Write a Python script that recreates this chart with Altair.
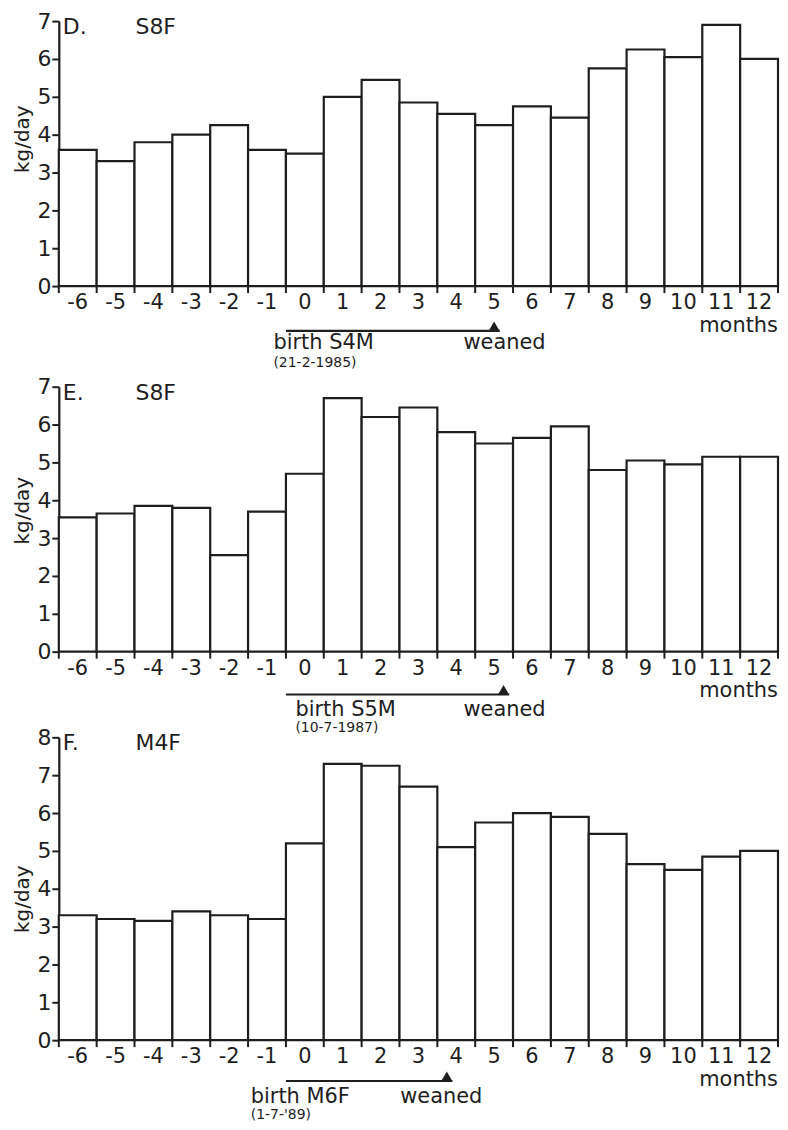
import altair as alt
import pandas as pd

# ---------------- data ----------------
months = list(range(-6, 13))
d_values = [3.6, 3.3, 3.8, 4.0, 4.25, 3.6, 3.5, 5.0, 5.45, 4.85, 4.55, 4.25, 4.75, 4.45, 5.75, 6.25, 6.05, 6.9, 6.0]
e_values = [3.55, 3.65, 3.85, 3.8, 2.55, 3.7, 4.7, 6.7, 6.2, 6.45, 5.8, 5.5, 5.65, 5.95, 4.8, 5.05, 4.95, 5.15, 5.15]
f_values = [3.3, 3.2, 3.15, 3.4, 3.3, 3.2, 5.2, 7.3, 7.25, 6.7, 5.1, 5.75, 6.0, 5.9, 5.45, 4.65, 4.5, 4.85, 5.0]

panel_letters = ["D.", "E.", "F."]
panel_ids = ["S8F", "S8F", "M4F"]
y_max = [7, 7, 8]
birth_labels = ["birth S4M", "birth S5M", "birth M6F"]
birth_dates = ["(21-2-1985)", "(10-7-1987)", "(1-7-'89)"]
birth_start = [-0.5, -0.5, -0.5]
weaned_at = [5.0, 5.25, 3.75]
birth_text_x = [-0.83, -0.25, -1.43]
weaned_text_x = [4.19, 4.19, 2.52]
x_unit_label = "months"
y_title = "kg/day"

all_values = [d_values, e_values, f_values]

# ---------------- style ----------------
INK = "#1e1e1e"
FONT = "DejaVu Sans"
W = 722
unit = 38.0
heights = [y * unit for y in y_max]
top_extra = [0, 15, 0]
title_y = [118, 124, 162]
line_dy = [45, 43, 41]
text_dy = [57, 59, 57]
date_dy = [77, 77, 75]


def panel(i):
    h = heights[i] + top_extra[i]
    te = top_extra[i]
    df = pd.DataFrame({"month": months, "value": all_values[i]})
    df["x0"] = df["month"] - 0.5
    df["x1"] = df["month"] + 0.5
    df["lbl"] = [str(m) for m in months]
    xscale = alt.Scale(domain=[-6.5, 12.5], nice=False, zero=False)
    yscale = alt.Scale(domain=[0, y_max[i]], nice=False, range=[h, te])

    bars = alt.Chart(df).mark_rect(fill="white", stroke=INK, strokeWidth=2.2).encode(
        x=alt.X("x0:Q", scale=xscale, axis=alt.Axis(
            values=months, title=None, grid=False, labels=False,
            ticks=False, tickSize=0,
            domainColor=INK, domainWidth=2.2)),
        x2="x1:Q",
        y=alt.Y("value:Q", scale=yscale, axis=alt.Axis(
            values=list(range(0, y_max[i] + 1)), title=y_title, grid=False,
            tickSize=7, tickWidth=2, tickColor=INK,
            domainColor=INK, domainWidth=2.2,
            labelFont=FONT, labelFontSize=22, labelColor=INK, labelPadding=1,
            labelFlush=False,
            titleFont=FONT, titleFontSize=20, titleFontWeight="normal", titleColor=INK,
            titlePadding=4, titleY=title_y[i] + te)),
        y2=alt.datum(0),
    )

    # month labels centred under each bar
    xlabels = alt.Chart(df).mark_text(
        align="center", baseline="middle", font=FONT, fontSize=21, color=INK
    ).encode(x=alt.X("month:Q", scale=xscale, axis=None), y=alt.value(h + 17), text="lbl:N")

    # downward tick marks at the bar boundaries
    bdf = pd.DataFrame({"b": [m - 0.5 for m in months] + [months[-1] + 0.5]})
    bticks = alt.Chart(bdf).mark_rule(color=INK, strokeWidth=2).encode(
        x=alt.X("b:Q", scale=xscale, axis=None), y=alt.value(h), y2=alt.value(h + 7)
    )

    lab = alt.Chart(pd.DataFrame({"t": [panel_letters[i]]})).mark_text(
        align="left", baseline="middle", font=FONT, fontSize=22, color=INK
    ).encode(x=alt.value(4), y=alt.value(te + 6), text="t:N")
    pid = alt.Chart(pd.DataFrame({"t": [panel_ids[i]]})).mark_text(
        align="left", baseline="middle", font=FONT, fontSize=22, color=INK
    ).encode(x=alt.value(77), y=alt.value(te + 6), text="t:N")

    seg = alt.Chart(pd.DataFrame({"s": [birth_start[i]], "e": [weaned_at[i] + 0.15]})).mark_rule(
        color=INK, strokeWidth=2.2
    ).encode(x=alt.X("s:Q", scale=xscale, axis=None), x2="e:Q", y=alt.value(h + line_dy[i]))

    tri = alt.Chart(pd.DataFrame({"w": [weaned_at[i]]})).mark_point(
        shape="triangle-up", filled=True, size=110, color=INK, opacity=1
    ).encode(x=alt.X("w:Q", scale=xscale, axis=None), y=alt.value(h + line_dy[i] - 5))

    birth = alt.Chart(pd.DataFrame({"bx": [birth_text_x[i]], "t": [birth_labels[i]]})).mark_text(
        align="left", baseline="middle", font=FONT, fontSize=21, color=INK
    ).encode(x=alt.X("bx:Q", scale=xscale, axis=None), y=alt.value(h + text_dy[i]), text="t:N")

    date = alt.Chart(pd.DataFrame({"bx": [birth_text_x[i]], "t": [birth_dates[i]]})).mark_text(
        align="left", baseline="middle", font=FONT, fontSize=14, color=INK
    ).encode(x=alt.X("bx:Q", scale=xscale, axis=None), y=alt.value(h + date_dy[i]), text="t:N")

    wean = alt.Chart(pd.DataFrame({"wx": [weaned_text_x[i]], "t": ["weaned"]})).mark_text(
        align="left", baseline="middle", font=FONT, fontSize=21, color=INK
    ).encode(x=alt.X("wx:Q", scale=xscale, axis=None), y=alt.value(h + text_dy[i]), text="t:N")

    mon = alt.Chart(pd.DataFrame({"t": [x_unit_label]})).mark_text(
        align="right", baseline="middle", font=FONT, fontSize=21, color=INK
    ).encode(x=alt.value(W), y=alt.value(h + 40), text="t:N")

    return alt.layer(bars, xlabels, bticks, lab, pid, seg, tri, birth, date, wean, mon).properties(
        width=W, height=h
    )


chart = alt.vconcat(panel(0), panel(1), panel(2), spacing=86, bounds="flush").properties(
    padding={"left": 5, "top": 0, "right": 0, "bottom": 0},
    background="white",
).configure_view(strokeWidth=0, stroke="transparent")

chart.save("out.html", embed_options={"renderer": "svg", "actions": False})
